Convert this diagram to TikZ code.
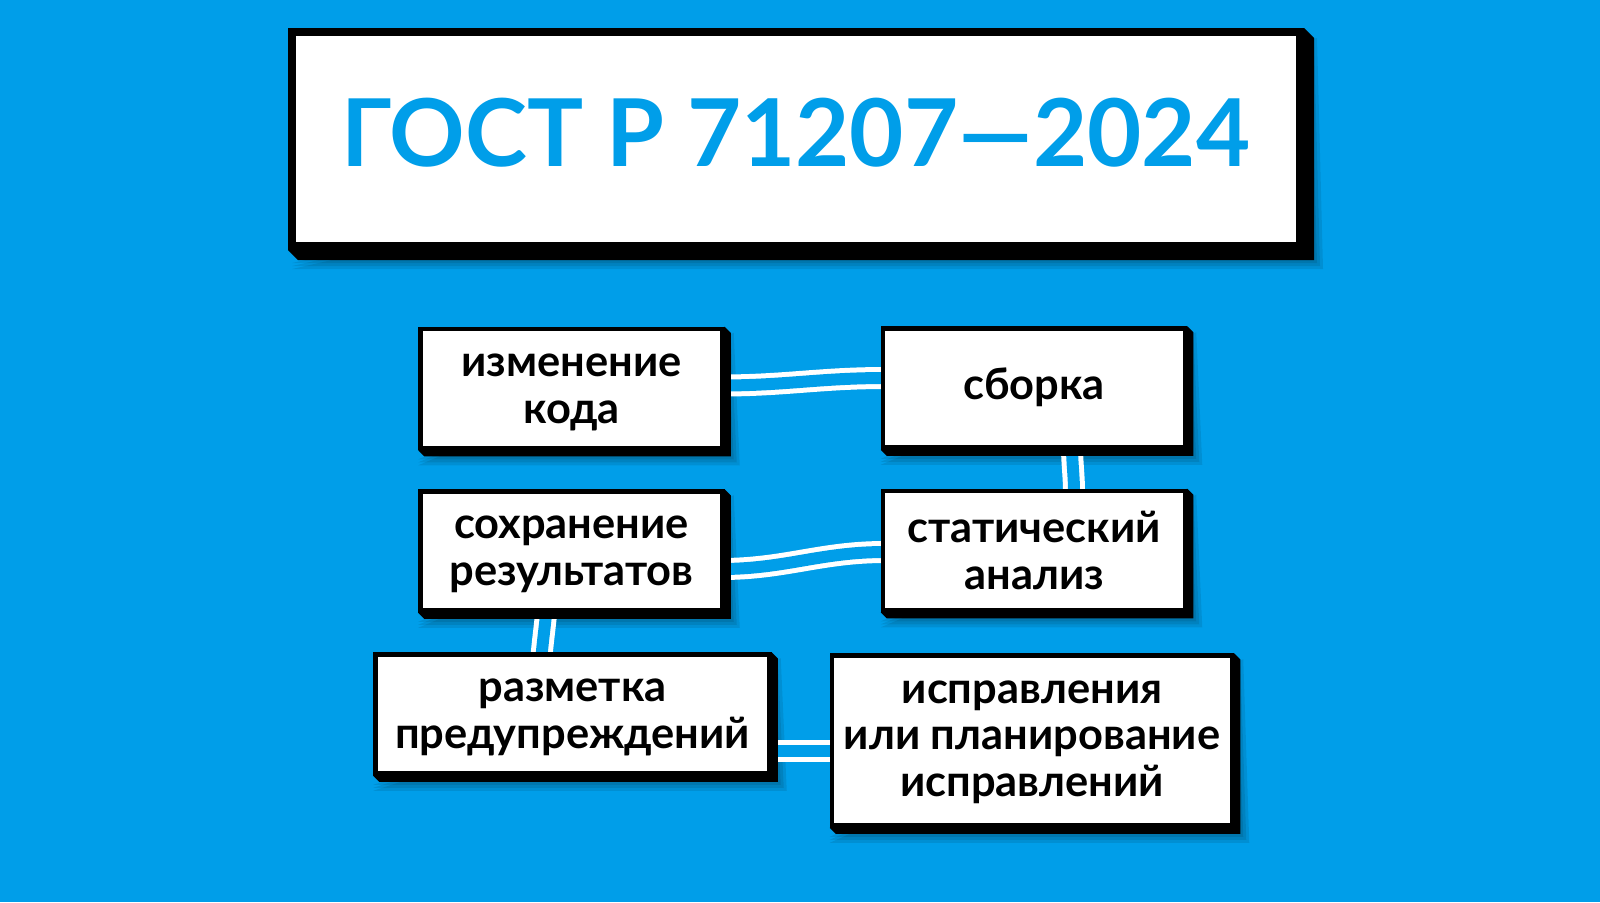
\documentclass[tikz,border=0pt]{standalone}
\usepackage{fontspec}
\setmainfont{Lato}
\usetikzlibrary{backgrounds}
\definecolor{gostblue}{RGB}{0,158,233}

% black side faces behind a card: node name, depth
\newcommand{\slab}[2]{%
	\fill[black] (#1.north east) -- ([shift={(#2,#2)}]#1.north east)
		-- ([shift={(#2,#2)}]#1.south east) -- ([shift={(#2,#2)}]#1.south west)
		-- (#1.south west) -- cycle;}
% soft shade under a card
\newcommand{\haze}[2]{%
	\foreach \s in {3,6,9}
		\fill[black, opacity=0.09] ([shift={(#2+\s-6,#2)}]#1.north east) -- ([shift={(#2+\s,#2+\s)}]#1.south east)
			-- ([shift={(#2-6,#2+\s)}]#1.south west) -- cycle;}

\begin{document}
\begin{tikzpicture}[x=0.5pt,y=-0.5pt]
	\tikzstyle{card}=[draw=black, line width=2.25pt, fill=white, inner sep=0pt, align=center, minimum width=151pt, minimum height=59.5pt, text depth=0pt, font=\fontsize{21.7}{23.4}\selectfont\bfseries]
	\tikzstyle{link}=[draw=white, line width=2.5pt, double=gostblue, double distance=6pt]
	
	\node[draw=black, line width=4pt, fill=white, inner sep=0pt, minimum width=504pt, minimum height=107pt, text depth=6.5pt, text=gostblue, font=\fontsize{46.8}{50}\selectfont\bfseries] (gost) at (796,139) {ГОСТ Р 71207—2024};
	
	\node[card] (izm) at (571.5,388.5) {изменение\\кода};
	\node[card, text depth=4pt] (sbor) at (1034,388) {сборка};
	\node[card] (sohr) at (571.5,551) {сохранение\\результатов};
	\node[card] (stat) at (1034,550.5) {статический\\анализ};
	\node[card, minimum width=197pt] (razm) at (572.5,714) {разметка\\предупреждений};
	\node[card, minimum width=200pt, minimum height=85pt, text depth=2pt] (ispr) at (1032,740.5) {исправления\\или планирование\\исправлений};
	
	\begin{scope}[on background layer]
	\fill[gostblue] (0,0) rectangle (1600,902);
	
	\foreach \n in {izm,sbor,sohr,stat,razm,ispr}
		\haze{\n}{6};
	\haze{gost}{10};
	
	\draw[link] ([shift={(-4,-3)}]izm.east) to[out=0,in=180] ([shift={(4,-10)}]sbor.west);
	\draw[link] ([shift={(38,-4)}]sbor.south) to[out=-90,in=90] ([shift={(40,4)}]stat.north);
	\draw[link] ([shift={(4,1.5)}]stat.west) to[out=180,in=0] ([shift={(-4,18)}]sohr.east);
	\draw[link] ([shift={(-25,-4)}]sohr.south) to[out=-95,in=85] ([shift={(-31,4)}]razm.north);
	\draw[link] ([shift={(-4,36.5)}]razm.east) -- ([shift={(4,10)}]ispr.west);
	
	\foreach \n in {izm,sbor,sohr,stat,razm,ispr}
		\slab{\n}{6};
	\slab{gost}{10};
	\end{scope}
	
\end{tikzpicture}
\end{document}
